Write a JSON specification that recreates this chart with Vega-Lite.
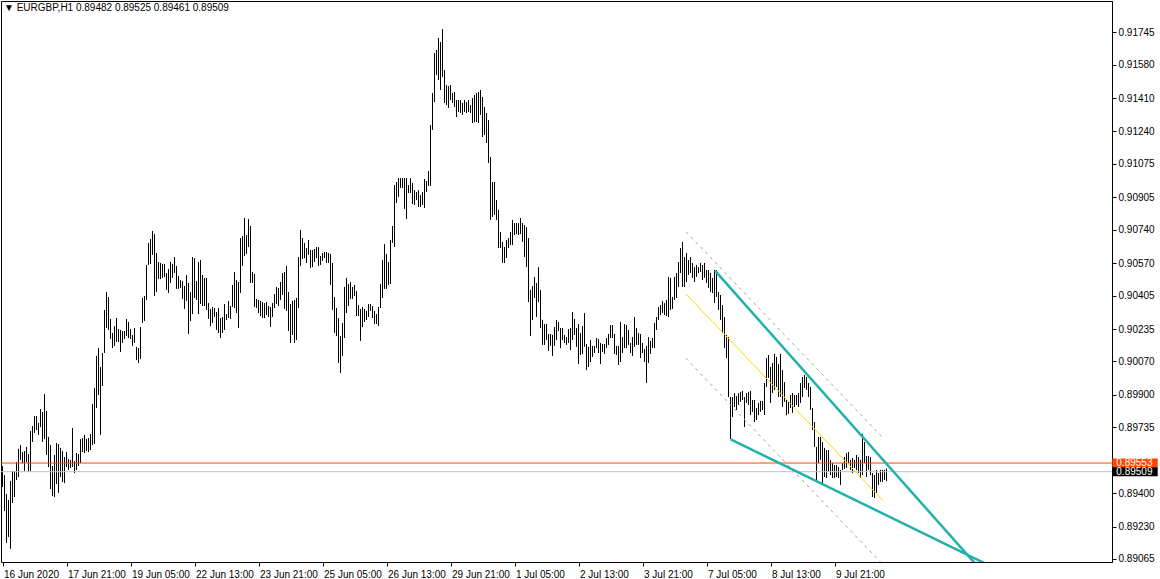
{
  "$schema": "https://vega.github.io/schema/vega-lite/v6.json",
  "width": 1111,
  "height": 561,
  "autosize": {"type": "none"},
  "padding": {"left": 1, "top": 1, "right": 48, "bottom": 17},
  "background": "white",
  "config": {
    "view": {"stroke": "black", "strokeWidth": 1},
    "font": "Liberation Sans",
    "axis": {"title": null, "labelOverlap": false, "labelFlush": false, "grid": false, "tickColor": "black", "domainColor": "black", "labelColor": "black", "labelFont": "Liberation Sans", "labelFontSize": 10, "tickSize": 4, "labelSeparation": 0},
    "axisX": {"labelAlign": "left", "labelBaseline": "top", "labelPadding": 3, "labelOffset": 1},
    "axisY": {"labelAlign": "left", "labelBaseline": "middle", "labelPadding": 2}
  },
  "title": {"text": "▼ EURGBP,H1  0.89482 0.89525 0.89461 0.89509", "anchor": "start", "frame": "group", "orient": "top", "offset": 0, "dx": 3, "dy": 20, "baseline": "alphabetic", "font": "Liberation Sans", "fontSize": 10, "fontWeight": "normal", "color": "black"},
  "datasets": {
    "bars": [
{"i":0,"h":0.89538,"l":0.89431},{"i":1,"h":0.89492,"l":0.89309},{"i":2,"h":0.89396,"l":0.89146},{"i":3,"h":0.89365,"l":0.89177},{"i":4,"h":0.89462,"l":0.89116},{"i":5,"h":0.89513,"l":0.89350},{"i":6,"h":0.89513,"l":0.89380},{"i":7,"h":0.89558,"l":0.89467},{"i":8,"h":0.89625,"l":0.89482},{"i":9,"h":0.89645,"l":0.89569},
{"i":10,"h":0.89609,"l":0.89553},{"i":11,"h":0.89614,"l":0.89513},{"i":12,"h":0.89635,"l":0.89558},{"i":13,"h":0.89599,"l":0.89508},{"i":14,"h":0.89716,"l":0.89513},{"i":15,"h":0.89742,"l":0.89660},{"i":16,"h":0.89792,"l":0.89706},{"i":17,"h":0.89792,"l":0.89721},{"i":18,"h":0.89757,"l":0.89696},{"i":19,"h":0.89828,"l":0.89736},
{"i":20,"h":0.89813,"l":0.89660},{"i":21,"h":0.89904,"l":0.89675},{"i":22,"h":0.89818,"l":0.89594},{"i":23,"h":0.89686,"l":0.89533},{"i":24,"h":0.89645,"l":0.89421},{"i":25,"h":0.89538,"l":0.89385},{"i":26,"h":0.89594,"l":0.89380},{"i":27,"h":0.89655,"l":0.89446},{"i":28,"h":0.89650,"l":0.89401},{"i":29,"h":0.89630,"l":0.89482},
{"i":30,"h":0.89614,"l":0.89457},{"i":31,"h":0.89584,"l":0.89451},{"i":32,"h":0.89609,"l":0.89533},{"i":33,"h":0.89574,"l":0.89518},{"i":34,"h":0.89569,"l":0.89528},{"i":35,"h":0.89731,"l":0.89533},{"i":36,"h":0.89563,"l":0.89502},{"i":37,"h":0.89604,"l":0.89518},{"i":38,"h":0.89599,"l":0.89538},{"i":39,"h":0.89675,"l":0.89553},
{"i":40,"h":0.89680,"l":0.89609},{"i":41,"h":0.89696,"l":0.89604},{"i":42,"h":0.89675,"l":0.89614},{"i":43,"h":0.89680,"l":0.89609},{"i":44,"h":0.89701,"l":0.89619},{"i":45,"h":0.89853,"l":0.89645},{"i":46,"h":0.89935,"l":0.89650},{"i":47,"h":0.90098,"l":0.89833},{"i":48,"h":0.90138,"l":0.89899},{"i":49,"h":0.90042,"l":0.89696},
{"i":50,"h":0.90113,"l":0.89945},{"i":51,"h":0.90332,"l":0.90113},{"i":52,"h":0.90423,"l":0.90240},{"i":53,"h":0.90398,"l":0.90230},{"i":54,"h":0.90286,"l":0.90184},{"i":55,"h":0.90215,"l":0.90138},{"i":56,"h":0.90250,"l":0.90149},{"i":57,"h":0.90291,"l":0.90169},{"i":58,"h":0.90235,"l":0.90169},{"i":59,"h":0.90230,"l":0.90118},
{"i":60,"h":0.90225,"l":0.90164},{"i":61,"h":0.90225,"l":0.90184},{"i":62,"h":0.90286,"l":0.90199},{"i":63,"h":0.90271,"l":0.90189},{"i":64,"h":0.90235,"l":0.90184},{"i":65,"h":0.90205,"l":0.90149},{"i":66,"h":0.90240,"l":0.90164},{"i":67,"h":0.90144,"l":0.90077},{"i":68,"h":0.90138,"l":0.90062},{"i":69,"h":0.90245,"l":0.90082},
{"i":70,"h":0.90393,"l":0.90266},{"i":71,"h":0.90403,"l":0.90276},{"i":72,"h":0.90561,"l":0.90383},{"i":73,"h":0.90673,"l":0.90561},{"i":74,"h":0.90693,"l":0.90566},{"i":75,"h":0.90734,"l":0.90612},{"i":76,"h":0.90718,"l":0.90403},{"i":77,"h":0.90622,"l":0.90423},{"i":78,"h":0.90576,"l":0.90489},{"i":79,"h":0.90571,"l":0.90489},
{"i":80,"h":0.90566,"l":0.90495},{"i":81,"h":0.90566,"l":0.90500},{"i":82,"h":0.90520,"l":0.90434},{"i":83,"h":0.90540,"l":0.90418},{"i":84,"h":0.90576,"l":0.90469},{"i":85,"h":0.90566,"l":0.90495},{"i":86,"h":0.90601,"l":0.90520},{"i":87,"h":0.90556,"l":0.90439},{"i":88,"h":0.90505,"l":0.90439},{"i":89,"h":0.90484,"l":0.90444},
{"i":90,"h":0.90479,"l":0.90388},{"i":91,"h":0.90454,"l":0.90337},{"i":92,"h":0.90510,"l":0.90378},{"i":93,"h":0.90469,"l":0.90210},{"i":94,"h":0.90423,"l":0.90276},{"i":95,"h":0.90601,"l":0.90311},{"i":96,"h":0.90596,"l":0.90393},{"i":97,"h":0.90479,"l":0.90383},{"i":98,"h":0.90576,"l":0.90311},{"i":99,"h":0.90586,"l":0.90362},
{"i":100,"h":0.90510,"l":0.90352},{"i":101,"h":0.90495,"l":0.90352},{"i":102,"h":0.90495,"l":0.90332},{"i":103,"h":0.90367,"l":0.90286},{"i":104,"h":0.90337,"l":0.90250},{"i":105,"h":0.90347,"l":0.90266},{"i":106,"h":0.90342,"l":0.90296},{"i":107,"h":0.90322,"l":0.90230},{"i":108,"h":0.90342,"l":0.90215},{"i":109,"h":0.90291,"l":0.90189},
{"i":110,"h":0.90296,"l":0.90215},{"i":111,"h":0.90362,"l":0.90230},{"i":112,"h":0.90311,"l":0.90281},{"i":113,"h":0.90378,"l":0.90291},{"i":114,"h":0.90352,"l":0.90286},{"i":115,"h":0.90459,"l":0.90347},{"i":116,"h":0.90525,"l":0.90342},{"i":117,"h":0.90484,"l":0.90316},{"i":118,"h":0.90474,"l":0.90240},{"i":119,"h":0.90698,"l":0.90418},
{"i":120,"h":0.90708,"l":0.90556},{"i":121,"h":0.90800,"l":0.90606},{"i":122,"h":0.90713,"l":0.90617},{"i":123,"h":0.90795,"l":0.90652},{"i":124,"h":0.90759,"l":0.90469},{"i":125,"h":0.90525,"l":0.90469},{"i":126,"h":0.90515,"l":0.90347},{"i":127,"h":0.90388,"l":0.90342},{"i":128,"h":0.90383,"l":0.90316},{"i":129,"h":0.90378,"l":0.90301},
{"i":130,"h":0.90372,"l":0.90291},{"i":131,"h":0.90367,"l":0.90291},{"i":132,"h":0.90372,"l":0.90306},{"i":133,"h":0.90352,"l":0.90296},{"i":134,"h":0.90347,"l":0.90245},{"i":135,"h":0.90367,"l":0.90296},{"i":136,"h":0.90413,"l":0.90342},{"i":137,"h":0.90449,"l":0.90362},{"i":138,"h":0.90444,"l":0.90352},{"i":139,"h":0.90474,"l":0.90383},
{"i":140,"h":0.90520,"l":0.90408},{"i":141,"h":0.90525,"l":0.90337},{"i":142,"h":0.90556,"l":0.90327},{"i":143,"h":0.90423,"l":0.90225},{"i":144,"h":0.90362,"l":0.90164},{"i":145,"h":0.90378,"l":0.90205},{"i":146,"h":0.90383,"l":0.90164},{"i":147,"h":0.90393,"l":0.90179},{"i":148,"h":0.90601,"l":0.90342},{"i":149,"h":0.90739,"l":0.90556},
{"i":150,"h":0.90698,"l":0.90591},{"i":151,"h":0.90673,"l":0.90596},{"i":152,"h":0.90647,"l":0.90571},{"i":153,"h":0.90688,"l":0.90612},{"i":154,"h":0.90637,"l":0.90545},{"i":155,"h":0.90637,"l":0.90550},{"i":156,"h":0.90642,"l":0.90576},{"i":157,"h":0.90652,"l":0.90596},{"i":158,"h":0.90652,"l":0.90556},{"i":159,"h":0.90606,"l":0.90561},
{"i":160,"h":0.90622,"l":0.90581},{"i":161,"h":0.90627,"l":0.90596},{"i":162,"h":0.90627,"l":0.90571},{"i":163,"h":0.90622,"l":0.90571},{"i":164,"h":0.90617,"l":0.90459},{"i":165,"h":0.90571,"l":0.90332},{"i":166,"h":0.90398,"l":0.90215},{"i":167,"h":0.90342,"l":0.90199},{"i":168,"h":0.90291,"l":0.90062},{"i":169,"h":0.90199,"l":0.90011},
{"i":170,"h":0.90266,"l":0.90098},{"i":171,"h":0.90449,"l":0.90189},{"i":172,"h":0.90495,"l":0.90316},{"i":173,"h":0.90464,"l":0.90352},{"i":174,"h":0.90474,"l":0.90388},{"i":175,"h":0.90449,"l":0.90388},{"i":176,"h":0.90459,"l":0.90403},{"i":177,"h":0.90428,"l":0.90301},{"i":178,"h":0.90357,"l":0.90301},{"i":179,"h":0.90337,"l":0.90174},
{"i":180,"h":0.90347,"l":0.90245},{"i":181,"h":0.90337,"l":0.90271},{"i":182,"h":0.90327,"l":0.90281},{"i":183,"h":0.90362,"l":0.90296},{"i":184,"h":0.90362,"l":0.90327},{"i":185,"h":0.90352,"l":0.90291},{"i":186,"h":0.90327,"l":0.90260},{"i":187,"h":0.90311,"l":0.90260},{"i":188,"h":0.90347,"l":0.90250},{"i":189,"h":0.90464,"l":0.90342},
{"i":190,"h":0.90586,"l":0.90393},{"i":191,"h":0.90667,"l":0.90439},{"i":192,"h":0.90617,"l":0.90439},{"i":193,"h":0.90576,"l":0.90459},{"i":194,"h":0.90688,"l":0.90464},{"i":195,"h":0.90759,"l":0.90673},{"i":196,"h":0.90968,"l":0.90652},{"i":197,"h":0.90983,"l":0.90876},{"i":198,"h":0.91003,"l":0.90907},{"i":199,"h":0.91003,"l":0.90953},
{"i":200,"h":0.91003,"l":0.90953},{"i":201,"h":0.91003,"l":0.90846},{"i":202,"h":0.91003,"l":0.90795},{"i":203,"h":0.90968,"l":0.90927},{"i":204,"h":0.91003,"l":0.90927},{"i":205,"h":0.90978,"l":0.90871},{"i":206,"h":0.90942,"l":0.90866},{"i":207,"h":0.90932,"l":0.90891},{"i":208,"h":0.90942,"l":0.90856},{"i":209,"h":0.90917,"l":0.90856},
{"i":210,"h":0.90932,"l":0.90866},{"i":211,"h":0.90998,"l":0.90851},{"i":212,"h":0.90988,"l":0.90932},{"i":213,"h":0.91039,"l":0.90963},{"i":214,"h":0.91273,"l":0.90963},{"i":215,"h":0.91436,"l":0.91248},{"i":216,"h":0.91639,"l":0.91390},{"i":217,"h":0.91655,"l":0.91527},{"i":218,"h":0.91716,"l":0.91502},{"i":219,"h":0.91695,"l":0.91451},
{"i":220,"h":0.91761,"l":0.91517},{"i":221,"h":0.91553,"l":0.91385},{"i":222,"h":0.91476,"l":0.91375},{"i":223,"h":0.91471,"l":0.91360},{"i":224,"h":0.91476,"l":0.91400},{"i":225,"h":0.91436,"l":0.91385},{"i":226,"h":0.91441,"l":0.91365},{"i":227,"h":0.91400,"l":0.91314},{"i":228,"h":0.91400,"l":0.91339},{"i":229,"h":0.91400,"l":0.91334},
{"i":230,"h":0.91385,"l":0.91324},{"i":231,"h":0.91400,"l":0.91339},{"i":232,"h":0.91390,"l":0.91334},{"i":233,"h":0.91400,"l":0.91339},{"i":234,"h":0.91375,"l":0.91334},{"i":235,"h":0.91410,"l":0.91283},{"i":236,"h":0.91426,"l":0.91288},{"i":237,"h":0.91436,"l":0.91288},{"i":238,"h":0.91441,"l":0.91283},{"i":239,"h":0.91451,"l":0.91324},
{"i":240,"h":0.91416,"l":0.91212},{"i":241,"h":0.91365,"l":0.91222},{"i":242,"h":0.91334,"l":0.91181},{"i":243,"h":0.91298,"l":0.91080},{"i":244,"h":0.91110,"l":0.90790},{"i":245,"h":0.90983,"l":0.90805},{"i":246,"h":0.90983,"l":0.90815},{"i":247,"h":0.90891,"l":0.90790},{"i":248,"h":0.90841,"l":0.90647},{"i":249,"h":0.90729,"l":0.90647},
{"i":250,"h":0.90678,"l":0.90571},{"i":251,"h":0.90652,"l":0.90571},{"i":252,"h":0.90688,"l":0.90596},{"i":253,"h":0.90698,"l":0.90647},{"i":254,"h":0.90729,"l":0.90662},{"i":255,"h":0.90790,"l":0.90662},{"i":256,"h":0.90774,"l":0.90713},{"i":257,"h":0.90774,"l":0.90718},{"i":258,"h":0.90774,"l":0.90713},{"i":259,"h":0.90800,"l":0.90718},
{"i":260,"h":0.90774,"l":0.90678},{"i":261,"h":0.90764,"l":0.90601},{"i":262,"h":0.90754,"l":0.90550},{"i":263,"h":0.90698,"l":0.90372},{"i":264,"h":0.90434,"l":0.90199},{"i":265,"h":0.90454,"l":0.90281},{"i":266,"h":0.90500,"l":0.90393},{"i":267,"h":0.90469,"l":0.90296},{"i":268,"h":0.90550,"l":0.90372},{"i":269,"h":0.90434,"l":0.90240},
{"i":270,"h":0.90281,"l":0.90154},{"i":271,"h":0.90260,"l":0.90154},{"i":272,"h":0.90260,"l":0.90179},{"i":273,"h":0.90210,"l":0.90123},{"i":274,"h":0.90210,"l":0.90149},{"i":275,"h":0.90205,"l":0.90098},{"i":276,"h":0.90245,"l":0.90149},{"i":277,"h":0.90281,"l":0.90179},{"i":278,"h":0.90271,"l":0.90225},{"i":279,"h":0.90240,"l":0.90138},
{"i":280,"h":0.90240,"l":0.90179},{"i":281,"h":0.90205,"l":0.90164},{"i":282,"h":0.90194,"l":0.90154},{"i":283,"h":0.90235,"l":0.90164},{"i":284,"h":0.90240,"l":0.90128},{"i":285,"h":0.90322,"l":0.90179},{"i":286,"h":0.90286,"l":0.90205},{"i":287,"h":0.90240,"l":0.90144},{"i":288,"h":0.90260,"l":0.90057},{"i":289,"h":0.90215,"l":0.90103},
{"i":290,"h":0.90250,"l":0.90108},{"i":291,"h":0.90316,"l":0.90144},{"i":292,"h":0.90159,"l":0.90026},{"i":293,"h":0.90144,"l":0.90042},{"i":294,"h":0.90179,"l":0.90067},{"i":295,"h":0.90149,"l":0.90093},{"i":296,"h":0.90149,"l":0.90113},{"i":297,"h":0.90189,"l":0.90138},{"i":298,"h":0.90184,"l":0.90113},{"i":299,"h":0.90164,"l":0.90057},
{"i":300,"h":0.90159,"l":0.90118},{"i":301,"h":0.90159,"l":0.90108},{"i":302,"h":0.90189,"l":0.90138},{"i":303,"h":0.90210,"l":0.90154},{"i":304,"h":0.90255,"l":0.90189},{"i":305,"h":0.90255,"l":0.90189},{"i":306,"h":0.90210,"l":0.90108},{"i":307,"h":0.90149,"l":0.90103},{"i":308,"h":0.90149,"l":0.90052},{"i":309,"h":0.90271,"l":0.90067},
{"i":310,"h":0.90194,"l":0.90113},{"i":311,"h":0.90260,"l":0.90138},{"i":312,"h":0.90255,"l":0.90138},{"i":313,"h":0.90230,"l":0.90154},{"i":314,"h":0.90164,"l":0.90113},{"i":315,"h":0.90194,"l":0.90098},{"i":316,"h":0.90296,"l":0.90144},{"i":317,"h":0.90240,"l":0.90154},{"i":318,"h":0.90215,"l":0.90154},{"i":319,"h":0.90210,"l":0.90087},
{"i":320,"h":0.90164,"l":0.90113},{"i":321,"h":0.90133,"l":0.90067},{"i":322,"h":0.90149,"l":0.89960},{"i":323,"h":0.90194,"l":0.90062},{"i":324,"h":0.90174,"l":0.90108},{"i":325,"h":0.90189,"l":0.90138},{"i":326,"h":0.90266,"l":0.90138},{"i":327,"h":0.90296,"l":0.90230},{"i":328,"h":0.90347,"l":0.90281},{"i":329,"h":0.90357,"l":0.90306},
{"i":330,"h":0.90378,"l":0.90316},{"i":331,"h":0.90367,"l":0.90306},{"i":332,"h":0.90383,"l":0.90301},{"i":333,"h":0.90500,"l":0.90296},{"i":334,"h":0.90495,"l":0.90332},{"i":335,"h":0.90398,"l":0.90337},{"i":336,"h":0.90500,"l":0.90383},{"i":337,"h":0.90520,"l":0.90393},{"i":338,"h":0.90576,"l":0.90449},{"i":339,"h":0.90647,"l":0.90520},
{"i":340,"h":0.90678,"l":0.90449},{"i":341,"h":0.90601,"l":0.90449},{"i":342,"h":0.90622,"l":0.90474},{"i":343,"h":0.90586,"l":0.90510},{"i":344,"h":0.90601,"l":0.90520},{"i":345,"h":0.90571,"l":0.90495},{"i":346,"h":0.90550,"l":0.90474},{"i":347,"h":0.90561,"l":0.90500},{"i":348,"h":0.90550,"l":0.90520},{"i":349,"h":0.90571,"l":0.90525},
{"i":350,"h":0.90561,"l":0.90484},{"i":351,"h":0.90571,"l":0.90495},{"i":352,"h":0.90535,"l":0.90469},{"i":353,"h":0.90535,"l":0.90444},{"i":354,"h":0.90520,"l":0.90423},{"i":355,"h":0.90495,"l":0.90418},{"i":356,"h":0.90535,"l":0.90367},{"i":357,"h":0.90535,"l":0.90398},{"i":358,"h":0.90423,"l":0.90332},{"i":359,"h":0.90408,"l":0.90281},
{"i":360,"h":0.90357,"l":0.90215},{"i":361,"h":0.90296,"l":0.90138},{"i":362,"h":0.90205,"l":0.90087},{"i":363,"h":0.90194,"l":0.89889},{"i":364,"h":0.89889,"l":0.89675},{"i":365,"h":0.89889,"l":0.89787},{"i":366,"h":0.89909,"l":0.89838},{"i":367,"h":0.89894,"l":0.89823},{"i":368,"h":0.89909,"l":0.89848},{"i":369,"h":0.89915,"l":0.89864},
{"i":370,"h":0.89920,"l":0.89874},{"i":371,"h":0.89889,"l":0.89736},{"i":372,"h":0.89909,"l":0.89859},{"i":373,"h":0.89915,"l":0.89848},{"i":374,"h":0.89920,"l":0.89797},{"i":375,"h":0.89874,"l":0.89813},{"i":376,"h":0.89874,"l":0.89762},{"i":377,"h":0.89833,"l":0.89772},{"i":378,"h":0.89859,"l":0.89797},{"i":379,"h":0.89869,"l":0.89813},
{"i":380,"h":0.89869,"l":0.89823},{"i":381,"h":0.89960,"l":0.89797},{"i":382,"h":0.90087,"l":0.89940},{"i":383,"h":0.90103,"l":0.89986},{"i":384,"h":0.90042,"l":0.89859},{"i":385,"h":0.90062,"l":0.89909},{"i":386,"h":0.90108,"l":0.89925},{"i":387,"h":0.90093,"l":0.89940},{"i":388,"h":0.90057,"l":0.89889},{"i":389,"h":0.90108,"l":0.89889},
{"i":390,"h":0.90026,"l":0.89838},{"i":391,"h":0.89965,"l":0.89864},{"i":392,"h":0.89874,"l":0.89797},{"i":393,"h":0.89864,"l":0.89803},{"i":394,"h":0.89899,"l":0.89833},{"i":395,"h":0.89909,"l":0.89808},{"i":396,"h":0.89899,"l":0.89838},{"i":397,"h":0.89899,"l":0.89848},{"i":398,"h":0.89909,"l":0.89838},{"i":399,"h":0.89960,"l":0.89859},
{"i":400,"h":0.89991,"l":0.89889},{"i":401,"h":0.90001,"l":0.89935},{"i":402,"h":0.89991,"l":0.89925},{"i":403,"h":0.89960,"l":0.89889},{"i":404,"h":0.89940,"l":0.89823},{"i":405,"h":0.89833,"l":0.89721},{"i":406,"h":0.89762,"l":0.89635},{"i":407,"h":0.89635,"l":0.89467},{"i":408,"h":0.89686,"l":0.89553},{"i":409,"h":0.89686,"l":0.89569},
{"i":410,"h":0.89660,"l":0.89451},{"i":411,"h":0.89630,"l":0.89482},{"i":412,"h":0.89619,"l":0.89477},{"i":413,"h":0.89619,"l":0.89508},{"i":414,"h":0.89569,"l":0.89492},{"i":415,"h":0.89553,"l":0.89477},{"i":416,"h":0.89543,"l":0.89477},{"i":417,"h":0.89543,"l":0.89482},{"i":418,"h":0.89533,"l":0.89477},{"i":419,"h":0.89518,"l":0.89441},
{"i":420,"h":0.89553,"l":0.89518},{"i":421,"h":0.89584,"l":0.89523},{"i":422,"h":0.89604,"l":0.89528},{"i":423,"h":0.89609,"l":0.89553},{"i":424,"h":0.89569,"l":0.89518},{"i":425,"h":0.89579,"l":0.89502},{"i":426,"h":0.89569,"l":0.89528},{"i":427,"h":0.89594,"l":0.89518},{"i":428,"h":0.89584,"l":0.89502},{"i":429,"h":0.89569,"l":0.89477},
{"i":430,"h":0.89701,"l":0.89492},{"i":431,"h":0.89660,"l":0.89553},{"i":432,"h":0.89589,"l":0.89482},{"i":433,"h":0.89589,"l":0.89518},{"i":434,"h":0.89584,"l":0.89492},{"i":435,"h":0.89502,"l":0.89380},{"i":436,"h":0.89492,"l":0.89375},{"i":437,"h":0.89518,"l":0.89401},{"i":438,"h":0.89502,"l":0.89441},{"i":439,"h":0.89518,"l":0.89457},
{"i":440,"h":0.89518,"l":0.89457},{"i":441,"h":0.89518,"l":0.89467},{"i":442,"h":0.89525,"l":0.89461}
    ],
    "teal": [
      {"g": "upper", "i": 356.25, "p": 0.90532}, {"g": "upper", "i": 493.6, "p": 0.88958},
      {"g": "lower", "i": 364.1, "p": 0.89674}, {"g": "lower", "i": 498.75, "p": 0.89005}
    ],
    "mid": [{"i": 341.75, "p": 0.90413}, {"i": 440.4, "p": 0.89360}],
    "dash": [
      {"g": "a", "i": 341.75, "p": 0.90730}, {"g": "a", "i": 440.4, "p": 0.89679},
      {"g": "b", "i": 341.75, "p": 0.90086}, {"g": "b", "i": 440.4, "p": 0.89034}
    ],
    "ask": [{"p": 0.89553, "t": "0.89553"}],
    "bid": [{"p": 0.89509, "t": "0.89509"}]
  },
  "layer": [
    {
      "data": {"name": "bars"},
      "mark": {"type": "rule", "color": "black", "strokeWidth": 1},
      "encoding": {
        "x": {"field": "i", "type": "quantitative",
          "scale": {"domain": [-0.75, 554.75], "nice": false, "zero": false},
          "axis": {"orient": "bottom", "labelOverlap": false, "values": [0, 32, 64, 96, 128, 160, 192, 224, 256, 288, 320, 352, 384, 416],
            "labelExpr": "{'0':'16 Jun 2020','32':'17 Jun 21:00','64':'19 Jun 05:00','96':'22 Jun 13:00','128':'23 Jun 21:00','160':'25 Jun 05:00','192':'26 Jun 13:00','224':'29 Jun 21:00','256':'1 Jul 05:00','288':'2 Jul 13:00','320':'3 Jul 21:00','352':'7 Jul 05:00','384':'8 Jul 13:00','416':'9 Jul 21:00'}[datum.value]"}},
        "y": {"field": "l", "type": "quantitative",
          "scale": {"domain": [0.890495, 0.91904], "nice": false, "zero": false},
          "axis": {"orient": "right", "labelOverlap": false, "values": [0.91745, 0.9158, 0.9141, 0.9124, 0.91075, 0.90905, 0.9074, 0.9057, 0.90405, 0.90235, 0.9007, 0.899, 0.89735, 0.894, 0.8923, 0.89065], "format": ".5f"}},
        "y2": {"field": "h"}
      }
    },
    {
      "data": {"name": "bid"},
      "mark": {"type": "rule", "color": "#c0c0c0", "strokeWidth": 1},
      "encoding": {"y": {"field": "p", "type": "quantitative", "axis": {"orient": "right", "labelOverlap": false, "values": [0.91745, 0.9158, 0.9141, 0.9124, 0.91075, 0.90905, 0.9074, 0.9057, 0.90405, 0.90235, 0.9007, 0.899, 0.89735, 0.894, 0.8923, 0.89065], "format": ".5f"}}}
    },
    {
      "data": {"name": "ask"},
      "mark": {"type": "rule", "color": "#ff4500", "strokeWidth": 1},
      "encoding": {"y": {"field": "p", "type": "quantitative", "axis": {"orient": "right", "labelOverlap": false, "values": [0.91745, 0.9158, 0.9141, 0.9124, 0.91075, 0.90905, 0.9074, 0.9057, 0.90405, 0.90235, 0.9007, 0.899, 0.89735, 0.894, 0.8923, 0.89065], "format": ".5f"}}}
    },
    {
      "data": {"name": "dash"},
      "mark": {"type": "line", "color": "#a0a0a0", "strokeWidth": 1, "strokeDash": [3, 4], "clip": true},
      "encoding": {
        "x": {"field": "i", "type": "quantitative", "axis": {"orient": "bottom", "labelOverlap": false, "values": [0, 32, 64, 96, 128, 160, 192, 224, 256, 288, 320, 352, 384, 416],
            "labelExpr": "{'0':'16 Jun 2020','32':'17 Jun 21:00','64':'19 Jun 05:00','96':'22 Jun 13:00','128':'23 Jun 21:00','160':'25 Jun 05:00','192':'26 Jun 13:00','224':'29 Jun 21:00','256':'1 Jul 05:00','288':'2 Jul 13:00','320':'3 Jul 21:00','352':'7 Jul 05:00','384':'8 Jul 13:00','416':'9 Jul 21:00'}[datum.value]"}},
        "y": {"field": "p", "type": "quantitative", "axis": {"orient": "right", "labelOverlap": false, "values": [0.91745, 0.9158, 0.9141, 0.9124, 0.91075, 0.90905, 0.9074, 0.9057, 0.90405, 0.90235, 0.9007, 0.899, 0.89735, 0.894, 0.8923, 0.89065], "format": ".5f"}},
        "detail": {"field": "g"}
      }
    },
    {
      "data": {"name": "mid"},
      "mark": {"type": "line", "color": "#ffd700", "strokeWidth": 1, "clip": true},
      "encoding": {
        "x": {"field": "i", "type": "quantitative", "axis": {"orient": "bottom", "labelOverlap": false, "values": [0, 32, 64, 96, 128, 160, 192, 224, 256, 288, 320, 352, 384, 416],
            "labelExpr": "{'0':'16 Jun 2020','32':'17 Jun 21:00','64':'19 Jun 05:00','96':'22 Jun 13:00','128':'23 Jun 21:00','160':'25 Jun 05:00','192':'26 Jun 13:00','224':'29 Jun 21:00','256':'1 Jul 05:00','288':'2 Jul 13:00','320':'3 Jul 21:00','352':'7 Jul 05:00','384':'8 Jul 13:00','416':'9 Jul 21:00'}[datum.value]"}},
        "y": {"field": "p", "type": "quantitative", "axis": {"orient": "right", "labelOverlap": false, "values": [0.91745, 0.9158, 0.9141, 0.9124, 0.91075, 0.90905, 0.9074, 0.9057, 0.90405, 0.90235, 0.9007, 0.899, 0.89735, 0.894, 0.8923, 0.89065], "format": ".5f"}}
      }
    },
    {
      "data": {"name": "teal"},
      "mark": {"type": "line", "color": "#20b2aa", "strokeWidth": 2.5, "clip": true},
      "encoding": {
        "x": {"field": "i", "type": "quantitative", "axis": {"orient": "bottom", "labelOverlap": false, "values": [0, 32, 64, 96, 128, 160, 192, 224, 256, 288, 320, 352, 384, 416],
            "labelExpr": "{'0':'16 Jun 2020','32':'17 Jun 21:00','64':'19 Jun 05:00','96':'22 Jun 13:00','128':'23 Jun 21:00','160':'25 Jun 05:00','192':'26 Jun 13:00','224':'29 Jun 21:00','256':'1 Jul 05:00','288':'2 Jul 13:00','320':'3 Jul 21:00','352':'7 Jul 05:00','384':'8 Jul 13:00','416':'9 Jul 21:00'}[datum.value]"}},
        "y": {"field": "p", "type": "quantitative", "axis": {"orient": "right", "labelOverlap": false, "values": [0.91745, 0.9158, 0.9141, 0.9124, 0.91075, 0.90905, 0.9074, 0.9057, 0.90405, 0.90235, 0.9007, 0.899, 0.89735, 0.894, 0.8923, 0.89065], "format": ".5f"}},
        "detail": {"field": "g"}
      }
    },
    {
      "data": {"name": "ask"},
      "mark": {"type": "rule", "color": "#ff4500", "strokeWidth": 9, "strokeCap": "butt", "clip": false},
      "encoding": {
        "x": {"datum": 554.9, "type": "quantitative", "axis": {"orient": "bottom", "labelOverlap": false, "values": [0, 32, 64, 96, 128, 160, 192, 224, 256, 288, 320, 352, 384, 416],
            "labelExpr": "{'0':'16 Jun 2020','32':'17 Jun 21:00','64':'19 Jun 05:00','96':'22 Jun 13:00','128':'23 Jun 21:00','160':'25 Jun 05:00','192':'26 Jun 13:00','224':'29 Jun 21:00','256':'1 Jul 05:00','288':'2 Jul 13:00','320':'3 Jul 21:00','352':'7 Jul 05:00','384':'8 Jul 13:00','416':'9 Jul 21:00'}[datum.value]"}},
        "x2": {"datum": 577.6},
        "y": {"field": "p", "type": "quantitative", "axis": {"orient": "right", "labelOverlap": false, "values": [0.91745, 0.9158, 0.9141, 0.9124, 0.91075, 0.90905, 0.9074, 0.9057, 0.90405, 0.90235, 0.9007, 0.899, 0.89735, 0.894, 0.8923, 0.89065], "format": ".5f"}}
      }
    },
    {
      "data": {"name": "bid"},
      "mark": {"type": "rule", "color": "black", "strokeWidth": 9, "strokeCap": "butt", "clip": false},
      "encoding": {
        "x": {"datum": 554.9, "type": "quantitative", "axis": {"orient": "bottom", "labelOverlap": false, "values": [0, 32, 64, 96, 128, 160, 192, 224, 256, 288, 320, 352, 384, 416],
            "labelExpr": "{'0':'16 Jun 2020','32':'17 Jun 21:00','64':'19 Jun 05:00','96':'22 Jun 13:00','128':'23 Jun 21:00','160':'25 Jun 05:00','192':'26 Jun 13:00','224':'29 Jun 21:00','256':'1 Jul 05:00','288':'2 Jul 13:00','320':'3 Jul 21:00','352':'7 Jul 05:00','384':'8 Jul 13:00','416':'9 Jul 21:00'}[datum.value]"}},
        "x2": {"datum": 577.6},
        "y": {"field": "p", "type": "quantitative", "axis": {"orient": "right", "labelOverlap": false, "values": [0.91745, 0.9158, 0.9141, 0.9124, 0.91075, 0.90905, 0.9074, 0.9057, 0.90405, 0.90235, 0.9007, 0.899, 0.89735, 0.894, 0.8923, 0.89065], "format": ".5f"}}
      }
    },
    {
      "data": {"name": "ask"},
      "mark": {"type": "text", "color": "white", "align": "left", "baseline": "middle", "font": "Liberation Sans", "fontSize": 10, "clip": false},
      "encoding": {
        "x": {"datum": 556.9, "type": "quantitative", "axis": {"orient": "bottom", "labelOverlap": false, "values": [0, 32, 64, 96, 128, 160, 192, 224, 256, 288, 320, 352, 384, 416],
            "labelExpr": "{'0':'16 Jun 2020','32':'17 Jun 21:00','64':'19 Jun 05:00','96':'22 Jun 13:00','128':'23 Jun 21:00','160':'25 Jun 05:00','192':'26 Jun 13:00','224':'29 Jun 21:00','256':'1 Jul 05:00','288':'2 Jul 13:00','320':'3 Jul 21:00','352':'7 Jul 05:00','384':'8 Jul 13:00','416':'9 Jul 21:00'}[datum.value]"}},
        "y": {"field": "p", "type": "quantitative", "axis": {"orient": "right", "labelOverlap": false, "values": [0.91745, 0.9158, 0.9141, 0.9124, 0.91075, 0.90905, 0.9074, 0.9057, 0.90405, 0.90235, 0.9007, 0.899, 0.89735, 0.894, 0.8923, 0.89065], "format": ".5f"}},
        "text": {"field": "t"}
      }
    },
    {
      "data": {"name": "bid"},
      "mark": {"type": "text", "color": "white", "align": "left", "baseline": "middle", "font": "Liberation Sans", "fontSize": 10, "clip": false},
      "encoding": {
        "x": {"datum": 556.9, "type": "quantitative", "axis": {"orient": "bottom", "labelOverlap": false, "values": [0, 32, 64, 96, 128, 160, 192, 224, 256, 288, 320, 352, 384, 416],
            "labelExpr": "{'0':'16 Jun 2020','32':'17 Jun 21:00','64':'19 Jun 05:00','96':'22 Jun 13:00','128':'23 Jun 21:00','160':'25 Jun 05:00','192':'26 Jun 13:00','224':'29 Jun 21:00','256':'1 Jul 05:00','288':'2 Jul 13:00','320':'3 Jul 21:00','352':'7 Jul 05:00','384':'8 Jul 13:00','416':'9 Jul 21:00'}[datum.value]"}},
        "y": {"field": "p", "type": "quantitative", "axis": {"orient": "right", "labelOverlap": false, "values": [0.91745, 0.9158, 0.9141, 0.9124, 0.91075, 0.90905, 0.9074, 0.9057, 0.90405, 0.90235, 0.9007, 0.899, 0.89735, 0.894, 0.8923, 0.89065], "format": ".5f"}},
        "text": {"field": "t"}
      }
    }
  ]
}
